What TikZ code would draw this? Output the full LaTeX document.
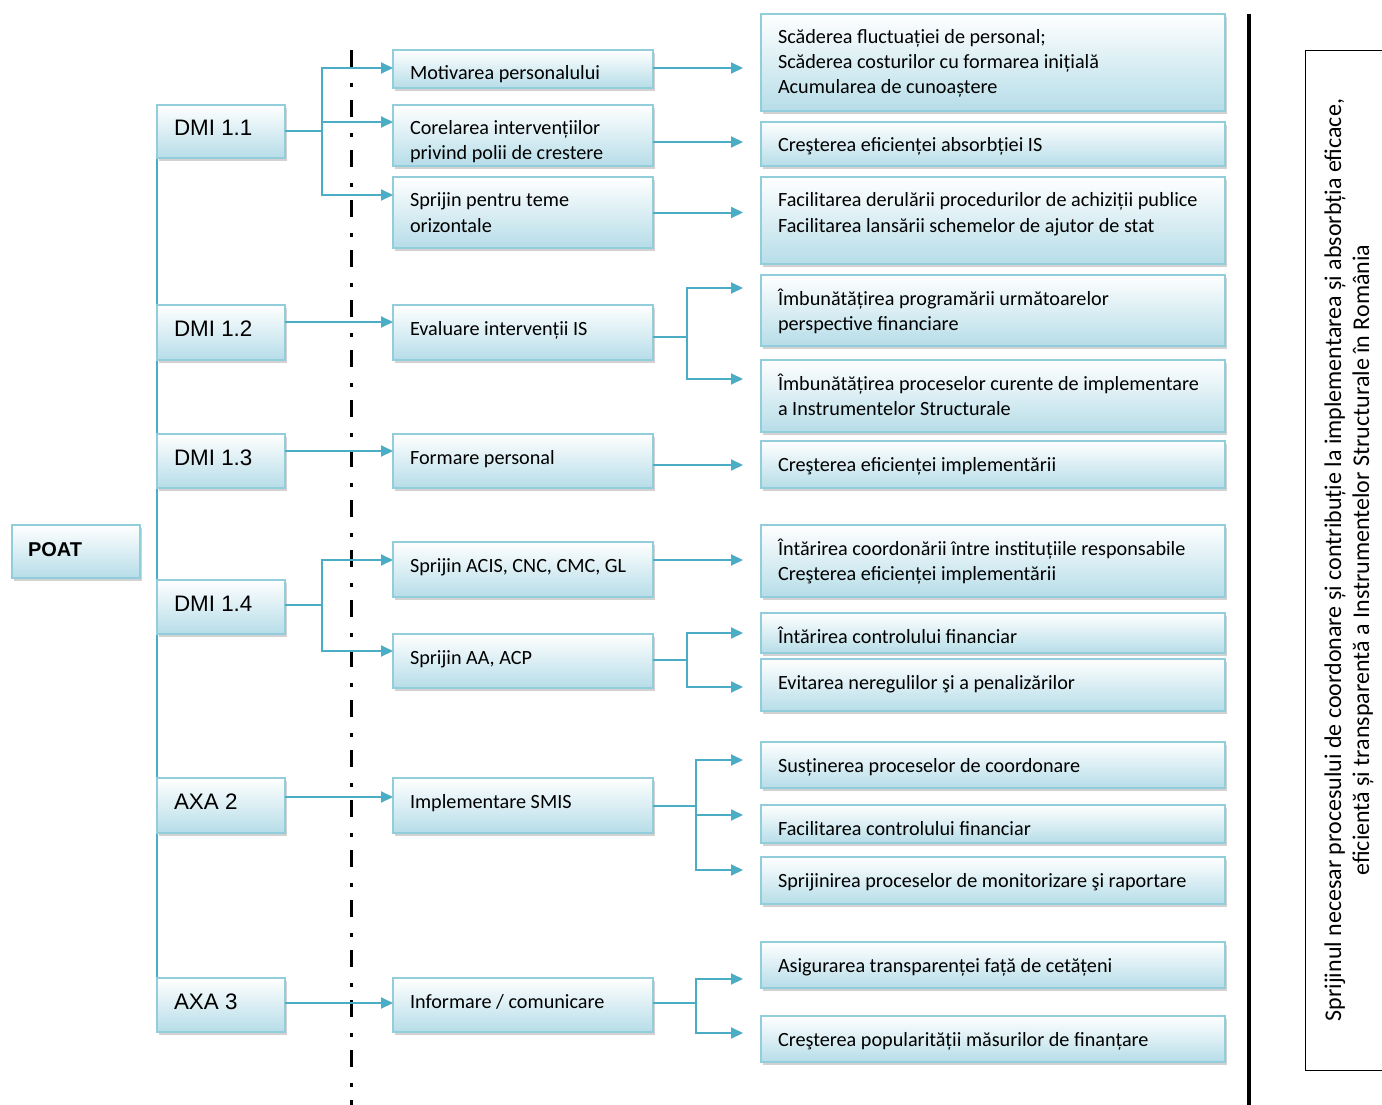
\documentclass[tikz,border=0pt]{standalone}
\usepackage{fontspec}
\setmainfont{Carlito}
\newfontfamily\headfont{Liberation Sans}
\usetikzlibrary{arrows.meta,shadows,backgrounds}

\definecolor{conn}{HTML}{4BACC6}
\definecolor{boxblue}{HTML}{B6DDE8}
\definecolor{boxline}{HTML}{92CDDC}

\tikzset{
  box/.style={draw=boxline, line width=1.3pt, top color=white, bottom color=boxblue,
    drop shadow={shadow xshift=2pt, shadow yshift=-3pt, fill=black!35},
    anchor=north west, inner sep=0pt, outer sep=0pt},
  lbl/.style={font=\fontsize{20.2}{25}\selectfont, inner sep=0pt, outer sep=0pt,
    align=left, anchor=north west, xshift=17pt, yshift=-12pt},
  lblhead/.style={font=\headfont\fontsize{22.4}{25}\selectfont, inner sep=0pt, outer sep=0pt,
    align=left, anchor=north west, xshift=17pt, yshift=-13pt},
  lblroot/.style={font=\headfont\bfseries\fontsize{20}{25}\selectfont, inner sep=0pt, outer sep=0pt,
    align=left, anchor=north west, xshift=16pt, yshift=-13pt},
  ln/.style={draw=conn, line width=2pt},
  arr/.style={ln, -{Triangle[length=12pt,width=11pt]}},
  far/.style={arr, shorten >=18pt},
  dashdotline/.style={draw=black, line width=3pt, dash pattern=on 17pt off 16pt on 4pt off 13pt},
}

% #1 name, #2 x1, #3 y1, #4 x2, #5 y2, #6 text style, #7 text
\newcommand\tbox[7]{%
  \node[box, minimum width={(#4-#2)*1pt}, minimum height={(#5-#3)*1pt}] (#1) at (#2,#3) {};
  \node[#6] (#1-t) at (#1.north west) {\rule{0pt}{18pt}#7};
}

\begin{document}
\begin{tikzpicture}[x=1pt, y=-1pt]
\useasboundingbox (0,0) rectangle (1382,1105);

% separators
\coordinate (dtop) at (351,50);
\coordinate (dbot) at (351,1105);
\draw[dashdotline] (dtop) -- (dbot);
\coordinate (rtop) at (1249,14);
\coordinate (rbot) at (1249,1105);
\draw[line width=3.5pt] (rtop) -- (rbot);

% root and first level
\tbox{poat}{12}{525}{140}{578}{lblroot}{POAT}
\tbox{d11}{157}{105}{285}{158}{lblhead}{DMI 1.1}
\tbox{d12}{157}{305}{285}{360}{lblhead}{DMI 1.2}
\tbox{d13}{157}{434}{285}{488}{lblhead}{DMI 1.3}
\tbox{d14}{157}{580}{285}{634}{lblhead}{DMI 1.4}
\tbox{a2}{157}{778}{285}{833}{lblhead}{AXA 2}
\tbox{a3}{157}{978}{285}{1032}{lblhead}{AXA 3}

% measures
\tbox{m1}{393}{50}{653}{88}{lbl}{Motivarea personalului}
\tbox{m2}{393}{105}{653}{166}{lbl}{Corelarea intervențiilor\\privind polii de crestere}
\tbox{m3}{393}{177}{653}{248}{lbl}{Sprijin pentru teme\\orizontale}
\tbox{m4}{393}{305}{653}{360}{lbl}{Evaluare intervenții IS}
\tbox{m5}{393}{434}{653}{488}{lbl}{Formare personal}
\tbox{m6}{393}{542}{653}{597}{lbl}{Sprijin ACIS, CNC, CMC, GL}
\tbox{m7}{393}{634}{653}{688}{lbl}{Sprijin AA, ACP}
\tbox{m8}{393}{778}{653}{833}{lbl}{Implementare SMIS}
\tbox{m9}{393}{978}{653}{1032}{lbl}{Informare / comunicare}

% results
\tbox{r1}{761}{14}{1225}{111}{lbl}{Scăderea fluctuației de personal;\\Scăderea costurilor cu formarea inițială\\Acumularea de cunoaștere}
\tbox{r2}{761}{122}{1225}{166}{lbl}{Creşterea eficienței absorbției IS}
\tbox{r3}{761}{177}{1225}{264}{lbl}{Facilitarea derulării procedurilor de achiziții publice\\Facilitarea lansării schemelor de ajutor de stat}
\tbox{r4}{761}{275}{1225}{346}{lbl}{Îmbunătățirea programării următoarelor\\perspective financiare}
\tbox{r5}{761}{360}{1225}{432}{lbl}{Îmbunătățirea proceselor curente de implementare\\a Instrumentelor Structurale}
\tbox{r6}{761}{441}{1225}{488}{lbl}{Creşterea eficienței implementării}
\tbox{r7}{761}{525}{1225}{597}{lbl}{Întărirea coordonării între instituțiile responsabile\\Creşterea eficienței implementării}
\tbox{r8}{761}{613}{1225}{653}{lbl}{Întărirea controlului financiar}
\tbox{r9}{761}{659}{1225}{711}{lbl}{Evitarea neregulilor şi a penalizărilor}
\tbox{r10}{761}{742}{1225}{788}{lbl}{Susținerea proceselor de coordonare}
\tbox{r11}{761}{805}{1225}{843}{lbl}{Facilitarea controlului financiar}
\tbox{r12}{761}{857}{1225}{904}{lbl}{Sprijinirea proceselor de monitorizare şi raportare}
\tbox{r13}{761}{942}{1225}{988}{lbl}{Asigurarea transparenței față de cetățeni}
\tbox{r14}{761}{1016}{1225}{1062}{lbl}{Creşterea popularității măsurilor de finanțare}

% overall objective
\node[draw, line width=1.2pt, minimum width=90pt, minimum height=1020pt,
      anchor=north west, inner sep=0pt] (goalbox) at (1305,50) {};
\node[rotate=90, align=center, font=\fontsize{24}{28}\selectfont, inner sep=0pt] (goal) at (1349,560)
  {Sprijinul necesar procesului de coordonare și contribuție la implementarea și absorbția eficace,\\
   eficientă și transparentă a Instrumentelor Structurale în România};

% spine from the first-level boxes
\begin{scope}[on background layer]
  \draw[ln] (d11.south west) -- (a3.west);
\end{scope}

% junctions
\coordinate (j1) at (322,131.5);
\coordinate (j6) at (322,605);
\coordinate (j4) at (687,337);
\coordinate (j7) at (687,660);
\coordinate (j8) at (696,805.5);
\coordinate (j9) at (696,1003);

% first level -> measures
\draw[ln] (d11.east) -- (j1);
\draw[arr] (j1) |- ([yshift=1pt]m1.west);
\draw[arr] (j1) |- ([yshift=13.5pt]m2.west);
\draw[arr] (j1) |- ([yshift=17.5pt]m3.west);
\draw[arr] ([yshift=10.5pt]d12.east) -- ([yshift=10.5pt]m4.west);
\draw[arr] ([yshift=10pt]d13.east) -- ([yshift=10pt]m5.west);
\draw[ln] ([yshift=2pt]d14.east) -- (j6);
\draw[arr] (j6) |- ([yshift=9.5pt]m6.west);
\draw[arr] (j6) |- ([yshift=10pt]m7.west);
\draw[arr] ([yshift=8.5pt]a2.east) -- ([yshift=8.5pt]m8.west);
\draw[arr] ([yshift=2pt]a3.east) -- ([yshift=2pt]m9.west);

% measures -> results
\draw[far] ([yshift=1pt]m1.east) -- ([yshift=1pt]m1.east -| r1.west);
\draw[far] ([yshift=-6.5pt]m2.east) -- ([yshift=-6.5pt]m2.east -| r2.west);
\draw[far] (m3.east) -- (m3.east -| r3.west);
\draw[ln] ([yshift=-4.5pt]m4.east) -- (j4);
\draw[far] (j4) |- ([yshift=22.5pt]r4.west);
\draw[far] (j4) |- ([yshift=17pt]r5.west);
\draw[far] ([yshift=-4pt]m5.east) -- ([yshift=-4pt]m5.east -| r6.west);
\draw[far] ([yshift=9.5pt]m6.east) -- ([yshift=9.5pt]m6.east -| r7.west);
\draw[ln] ([yshift=1pt]m7.east) -- (j7);
\draw[far] (j7) |- (r8.west);
\draw[far] (j7) |- ([yshift=-2pt]r9.west);
\draw[ln] (m8.east) -- (j8);
\draw[far] (j8) |- ([yshift=5pt]r10.west);
\draw[far] (j8) |- ([yshift=9pt]r11.west);
\draw[far] (j8) |- ([yshift=10.5pt]r12.west);
\draw[ln] ([yshift=2pt]m9.east) -- (j9);
\draw[far] (j9) |- ([yshift=-14pt]r13.west);
\draw[far] (j9) |- ([yshift=6pt]r14.west);
\end{tikzpicture}
\end{document}
